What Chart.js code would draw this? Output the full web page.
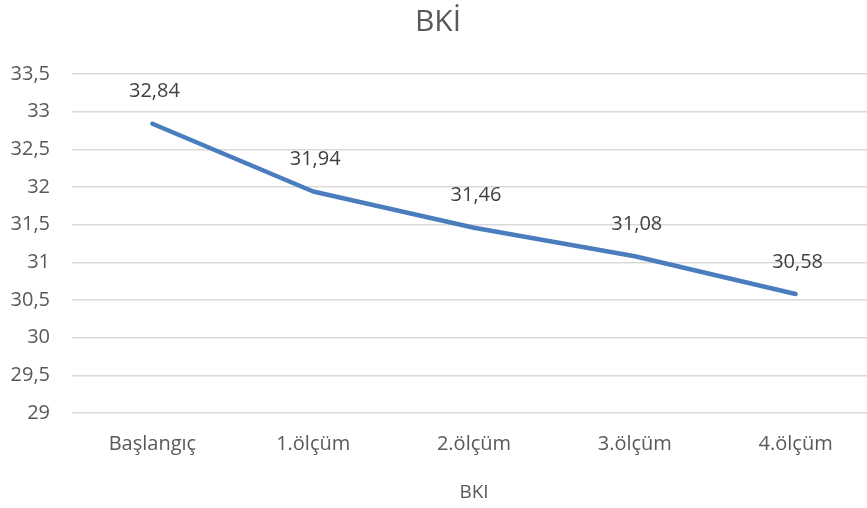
<!DOCTYPE html>
<html>
<head>
<meta charset="utf-8">
<script src="https://cdn.jsdelivr.net/npm/chart.js@4/dist/chart.umd.min.js"></script>
<style>
  html, body { margin: 0; padding: 0; background: #fff; overflow: hidden; }
  #wrap { width: 877px; height: 508px; }
</style>
</head>
<body>
<div id="wrap"><canvas id="chart" width="877" height="508"></canvas></div>
<script>
// chart values
const categories = ["Başlangıç", "1.ölçüm", "2.ölçüm", "3.ölçüm", "4.ölçüm"];
const bkiValues = [32.84, 31.94, 31.46, 31.08, 30.58];
const yMin = 29;
const yMax = 33.5;
const yStep = 0.5;

const textColor = "#595959";
const fontFamily = "'Open Sans', sans-serif";

// comma decimal like the source
function fmt(v) {
  return v.toString().replace(".", ",");
}

// draws value labels above each point
const pointLabels = {
  id: "pointLabels",
  afterDatasetsDraw(chart) {
    const ctx = chart.ctx;
    const meta = chart.getDatasetMeta(0);
    ctx.save();
    ctx.font = "20px " + fontFamily;
    ctx.fillStyle = "#404040";
    ctx.textAlign = "center";
    ctx.textBaseline = "middle";
    meta.data.forEach((pt, i) => {
      ctx.fillText(fmt(bkiValues[i].toFixed(2)), pt.x + 2, pt.y - 32);
    });
    ctx.restore();
  },
};

let ctx = document.getElementById("chart");
let chart = new Chart(ctx, {
  type: "line",
  data: {
    labels: categories,
    datasets: [
      {
        label: "BKI",
        data: bkiValues,
        borderColor: "#4a7dbd",
        borderWidth: 4.5,
        borderCapStyle: "round",
        borderJoinStyle: "round",
        pointRadius: 0,
        tension: 0,
        fill: false,
      },
    ],
  },
  options: {
    responsive: false,
    animation: false,
    layout: { padding: { left: 0, right: 1, top: 0, bottom: 0 } },
    plugins: {
      legend: { display: false },
      tooltip: { enabled: false },
      title: {
        display: true,
        text: "BKİ",
        color: textColor,
        font: { family: fontFamily, size: 30, weight: "normal", lineHeight: 1.2 },
        padding: { top: 4, bottom: 34 },
      },
    },
    scales: {
      x: {
        offset: true,
        grid: { display: false, drawTicks: false },
        border: { display: false },
        ticks: {
          color: textColor,
          font: { family: fontFamily, size: 20 },
          padding: 19,
          maxRotation: 0,
        },
        title: {
          display: true,
          text: "BKI",
          color: textColor,
          font: { family: fontFamily, size: 19 },
          padding: { top: 24, bottom: 4 },
        },
        afterFit(scale) {
          scale.height = 95;
        },
      },
      y: {
        min: yMin,
        max: yMax,
        grid: { color: "#d9d9d9", lineWidth: 1.5, drawTicks: false },
        border: { display: false },
        ticks: {
          stepSize: yStep,
          color: textColor,
          font: { family: fontFamily, size: 20 },
          padding: 22,
          callback: (v) => fmt(v),
        },
        afterFit(scale) {
          scale.width = 72;
        },
      },
    },
  },
  plugins: [pointLabels],
});
</script>
</body>
</html>
